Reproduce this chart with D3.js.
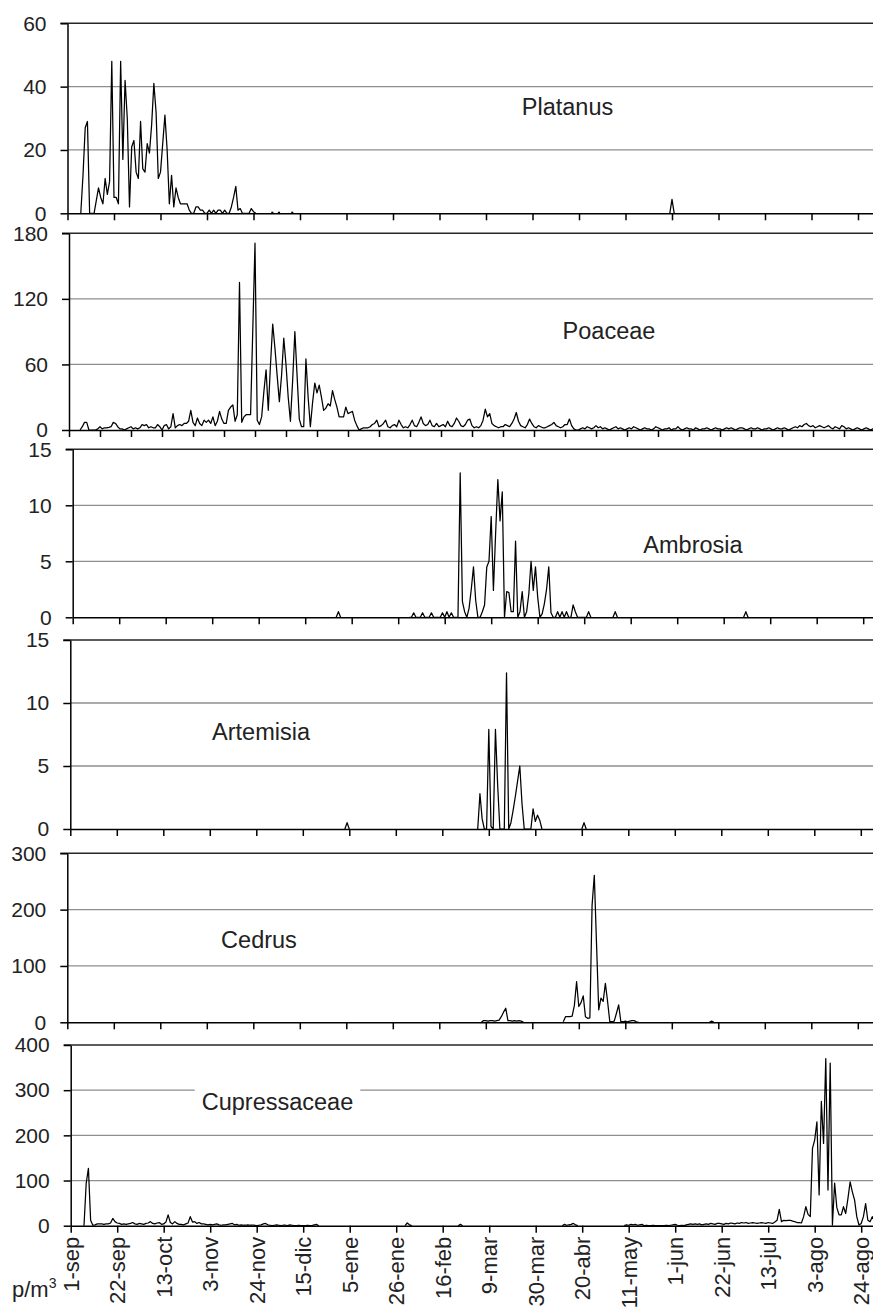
<!DOCTYPE html>
<html>
<head>
<meta charset="utf-8">
<script src="https://cdnjs.cloudflare.com/ajax/libs/d3/7.8.5/d3.min.js"></script>
<style>
  body { margin: 0; background: #fff; }
  svg { display: block; font-family: "Liberation Sans", Arial, sans-serif; }
</style>
</head>
<body>
<div id="chart"></div>
<script>
// ---- data ----
const dateLabels = ["1-sep", "22-sep", "13-oct", "3-nov", "24-nov", "15-dic", "5-ene", "26-ene", "16-feb",
  "9-mar", "30-mar", "20-abr", "11-may", "1-jun", "22-jun", "13-jul", "3-ago", "24-ago"];
const species = ["Platanus", "Poaceae", "Ambrosia", "Artemisia", "Cedrus", "Cupressaceae"];
const yMaxes = [60, 180, 15, 15, 300, 400];
const yTickValues = [[0, 20, 40, 60], [0, 60, 120, 180], [0, 5, 10, 15], [0, 5, 10, 15],
  [0, 100, 200, 300], [0, 100, 200, 300, 400]];
const xTickSteps = [21, 14, 21, 21, 21, 21];

// each series: [first day index, daily values...]
const platanus = [
  [6, [0,12,27,29,0,0,0,4,8,5, 3,11,6,10,48,5,5,3,48,17, 42,30,2,21,23,13,11,29,14,13,
       22,19,28,41,32,11,13,22,31,20, 3,12,2,8,5,3,3,3,3,1, 0,0,2,2,1,1,0,0,1,0,
       1,0,1,1,0,1,0,0,2,5, 8.5,1,1.5,0,0,0,0,1.5,0.5,0]],
  [92, [0.3,0.3]], [95, [0.3,0.3]], [101, [0.3,0.3]],
  [272, [0,4.4,0]]
];
const poaceae = [
  [5, [0,3,7,7,0,0,0,0,1,3, 1,2,2,2.4,3,7,6,3,1,1, 0,1,2,3,1,2,1,2,5,4, 5,2,3,2,2,5,3,0,4,5,
       1,3,15,2,4,5,4,6,6,8, 18,7,4,11,6,4,9,7,9,6, 12,4,8,17,10,6,6,18,21,23,
       8,14,135,7,12,14,14,14,92,171, 9,5,12,35,55,18,60,97,75,50, 26,50,84,60,30,8,45,90,50,10,
       3,3,65,30,3,25,43,34,41,30, 18,20,24,22,36,28,21,12,12,12, 21,15,16,17,9,4,0,1,2,2,
       2,3,5,6,9,3,4,6,9,3, 2,4,5,3,9,5,2,3,2,5, 9,4,3,7,12,6,4,5,9,4,
       3,6,3,4,5,3,8,4,3,6, 11,8,4,3,5,9,10,4,2,3, 2,4,9,19,12,15,6,4,3,2,
       3,3,5,4,3,6,10,16,8,4, 3,2,5,10,6,3,2,4,3,2, 2,3,4,5,7,4,3,2,3,5, 5,10,4,1,0,
       0,1,2,1,3,2,1,2,4,2, 3,1,2,1,0,1,2,3,1,2, 1,0,1,2,1,3,2,1,0,1, 2,1,1,0,1,3,2,1,0,1,
       1,2,0,1,1,3,1,0,1,2, 1,1,0,2,1,0,1,1,2,1, 0,1,2,1,1,0,1,2,1,2, 1,0,1,2,2,1,0,1,2,1,
       1,2,1,0,1,1,2,1,0,1, 2,1,1,2,1,0,1,2,3,2, 4,3,5,6,4,3,4,2,3,4, 3,2,3,4,2,1,3,2,1,4,
       3,1,2,1,0,1,2,1,0,1, 2,1,0,1,1]]
];
const ambrosia = [
  [119, [0,0.5,0]],
  [152, [0,0,0.4,0,0,0,0.4,0,0,0, 0.4,0,0,0,0,0.4,0,0.5,0,0.4, 0,0,0,12.9,1.4,0.5,0,0.8,2.5,4.5,
         1.5,0,0,0.5,1.1,4.5,5,9,2.4,7.5, 12.3,8.6,11.2,0,2.3,2.2,0.5,0.5,6.8,0,
         0.5,2.3,0,0.5,2.1,5,2.4,4.5,1.8,0, 0.3,1.2,2.5,4.5,0.4,0,0,0.5,0,0.5,
         0,0.5,0,0,1.1,0.5,0,0,0,0,0,0.5,0]],
  [244, [0,0.5,0]],
  [303, [0,0.5,0]]
];
const artemisia = [
  [124, [0,0.5,0]],
  [184, [0,2.8,0.8,0,0,7.9,0.2,0,7.9,3.5, 0,0,0,12.4,0,0.5,1.5,2.6,3.8,5, 2,0,0,0,0,1.6,0.6,1.1,0.7,0]],
  [231, [0,0.5,0]]
];
const cedrus = [
  [187, [0,3,3,2,3,3,2,3,4,10, 18,25,3,3,2,3,2,3,2,0]],
  [224, [1,10,10,10,11,30,72,28,35,47, 10,7,8,208,261,140,22,43,37,69,
         37,1,1,2,16,31,1,1,2,1, 2,3,3,1,0]],
  [290, [0,2,0]]
];
const cupressaceae = [
  [6, [0,94,127,12,1,2,4,4,4,3, 4,4,6,16,9,6,5,3,4,3, 4,5,7,4,3,5,4,3,5,6, 9,5,4,6,7,3,4,8,24,7,
       4,9,5,3,3,2,4,6,20,8, 9,5,7,4,4,3,2,3,2,3, 4,2,1,2,2,3,4,5,2,3, 1,2,1,1,2,1,1,1,0,1,
       2,4,5,2,1,0,1,2,1,0, 1,1,0,2,1,0,0,1,0,0, 0,1,0,0,2,3,0]],
  [151, [0,6,2,0]],
  [175, [0,3,0]],
  [222, [0,3,1,2,3,5,2,0]],
  [250, [0,2,1,3,2,3,1,2,3,0, 1,0,0,1,0,0,0,0,0,1, 0,1,2,3,1,0,1,0,2,3, 4,3,4,3,4,2,3,4,3,5,
         4,3,5,5,4,3,5,4,6,5, 4,6,5,7,6,7,5,6,7,6, 5,6,7,6,5,7,6,5,8,12,
         36,9,12,11,12,12,10,9,7,7, 6,20,42,25,20,171,190,230,68,275,
         182,370,79,360,1.5,94,40,24,24,42, 27,60,97,75,57,20,1.5,5,20,49, 12,9,20,10,5]]
];
const allSeries = [platanus, poaceae, ambrosia, artemisia, cedrus, cupressaceae];

// ---- layout ----
const W = 873, H = 1314, TICK = 7, DAY_PX = 46.5 / 21;
const boxes = [
  {left: 67.5, top: 23.3, bottom: 213.3, labelX: 567.5, labelY: 115},
  {left: 69, top: 233.3, bottom: 430, labelX: 609, labelY: 339},
  {left: 72.7, top: 449.3, bottom: 617.3, labelX: 693, labelY: 553},
  {left: 70.3, top: 640, bottom: 829, labelX: 261, labelY: 740},
  {left: 67.3, top: 853.3, bottom: 1022.3, labelX: 259, labelY: 948},
  {left: 70.7, top: 1045, bottom: 1225.7, labelX: 277.5, labelY: 1110, labelBg: true}
];

const svg = d3.select("#chart").append("svg")
  .attr("width", W)
  .attr("height", H);
svg.append("rect").attr("width", W).attr("height", H).attr("fill", "#fff");

species.forEach(function(name, i) {
  const b = boxes[i];
  const x = d3.scaleLinear().domain([0, 365]).range([b.left, b.left + 365 * DAY_PX]);
  const y = d3.scaleLinear().domain([0, yMaxes[i]]).range([b.bottom, b.top]);
  const g = svg.append("g").attr("class", "panel");

  // gridlines
  g.selectAll(".grid")
    .data(yTickValues[i].filter(v => v > 0 && v < yMaxes[i]))
    .enter().append("line")
    .attr("class", "grid")
    .attr("x1", b.left).attr("x2", W)
    .attr("y1", d => y(d)).attr("y2", d => y(d))
    .attr("stroke", "#8e8e8e")
    .attr("stroke-width", 1.3);

  // top border of the plot area
  g.append("line")
    .attr("x1", b.left - TICK).attr("x2", W)
    .attr("y1", y(yMaxes[i])).attr("y2", y(yMaxes[i]))
    .attr("stroke", "#262626")
    .attr("stroke-width", 1.5);

  // species name
  const label = g.append("text")
    .attr("x", b.labelX)
    .attr("y", b.labelY)
    .attr("text-anchor", "middle")
    .attr("font-size", 23.5)
    .attr("fill", "#222")
    .text(name);
  if (b.labelBg) {
    const bb = label.node().getBBox();
    g.insert("rect", "text")
      .attr("x", bb.x - 7).attr("y", bb.y)
      .attr("width", bb.width + 14).attr("height", bb.height)
      .attr("fill", "#fff");
  }

  // daily counts
  const line = d3.line()
    .x(d => x(d[0]))
    .y(d => y(d[1]));
  allSeries[i].forEach(function(seg) {
    const pts = seg[1].map((v, k) => [seg[0] + k, v]);
    g.append("path")
      .datum(pts)
      .attr("d", line)
      .attr("fill", "none")
      .attr("stroke", "#000")
      .attr("stroke-width", 1.25)
      .attr("stroke-linejoin", "round");
  });

  // axes
  const yAxis = d3.axisLeft(y)
    .tickValues(yTickValues[i])
    .tickSize(TICK)
    .tickSizeOuter(0)
    .tickPadding(14);
  const ya = g.append("g")
    .attr("transform", "translate(" + b.left + ",0)")
    .call(yAxis);
  ya.attr("font-size", 21).attr("font-family", null);
  ya.selectAll("path, line").attr("stroke", "#000").attr("stroke-width", 1.5);
  ya.selectAll("text").attr("fill", "#222");

  const last = i === species.length - 1;
  const xAxis = d3.axisBottom(x)
    .tickValues(d3.range(0, 366, xTickSteps[i]))
    .tickSize(TICK)
    .tickSizeOuter(0)
    .tickFormat((d, k) => last ? dateLabels[k] : "");
  const xa = g.append("g")
    .attr("transform", "translate(0," + b.bottom + ")")
    .call(xAxis);
  xa.attr("font-size", 22).attr("font-family", null);
  xa.selectAll("path, line").attr("stroke", "#000").attr("stroke-width", 1.5);
  xa.selectAll("text")
    .attr("fill", "#222")
    .attr("transform", "rotate(-90)")
    .attr("text-anchor", "end")
    .attr("x", -11)
    .attr("y", 0)
    .attr("dy", "0.35em");
});

// unit label
const unit = svg.append("text")
  .attr("x", 12)
  .attr("y", 1297)
  .attr("font-size", 22)
  .attr("fill", "#222")
  .text("p/m");
unit.append("tspan")
  .attr("font-size", 14)
  .attr("dy", -9)
  .text("3");
</script>
</body>
</html>
